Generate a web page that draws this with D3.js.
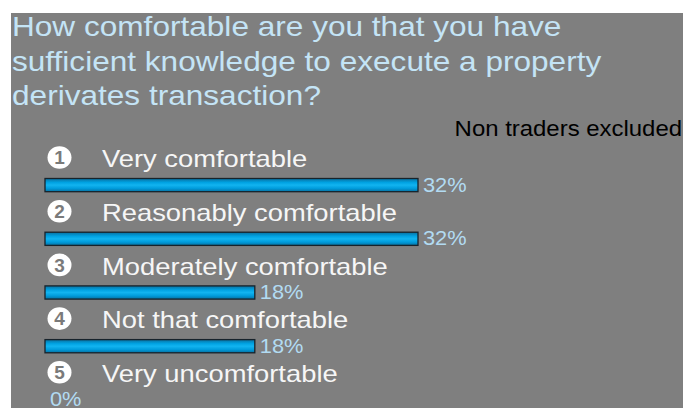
<!DOCTYPE html>
<html>
<head>
<meta charset="utf-8">
<script src="https://cdn.jsdelivr.net/npm/d3@7"></script>
<style>
  html, body { margin: 0; padding: 0; background: #ffffff; }
  svg { display: block; font-family: "Liberation Sans", Arial, sans-serif; }
</style>
</head>
<body>
<svg id="chart" width="683" height="409"></svg>
<script>
const titleLines = ["How comfortable are you that you have",
                    "sufficient knowledge to execute a property",
                    "derivates transaction?"];
const note = "Non traders excluded";
const categories = ["Very comfortable", "Reasonably comfortable", "Moderately comfortable",
                    "Not that comfortable", "Very uncomfortable"];
const numbers = ["1", "2", "3", "4", "5"];
const values = [32, 32, 18, 18, 0];
const valueLabels = ["32%", "32%", "18%", "18%", "0%"];

const W = 683, H = 409;
const svg = d3.select("#chart");

const defs = svg.append("defs");
const grad = defs.append("linearGradient").attr("id", "barGrad")
  .attr("x1", 0).attr("y1", 0).attr("x2", 0).attr("y2", 1);
[[0, "#0a6f9e"], [0.3, "#00a2e2"], [0.5, "#12b4f0"], [0.75, "#009cdc"], [1, "#08709f"]]
  .forEach(([o, c]) => grad.append("stop").attr("offset", o).attr("stop-color", c));

// background panel
svg.append("rect").attr("x", 11).attr("y", 13).attr("width", W - 11).attr("height", 395)
  .attr("fill", "#7f7f7f");

// title
const titleG = svg.append("g");
titleLines.forEach((t, i) => {
  titleG.append("text")
    .attr("transform", `translate(12,${36 + i * 34.5}) scale(1.17,1)`)
    .attr("font-size", 27).attr("fill", "#c4e4f6").text(t);
});

svg.append("text")
  .attr("transform", "translate(682,135.5) scale(1.05,1)")
  .attr("text-anchor", "end").attr("font-size", 22.8).attr("fill", "#000").text(note);

// scales
const y = d3.scaleBand().domain(categories).range([146, 146 + 5 * 53.7]).padding(0);
const x = d3.scaleLinear().domain([0, 32]).range([45, 418]);

const rows = svg.append("g").selectAll("g.row")
  .data(categories.map((c, i) => ({ c, n: numbers[i], v: values[i], l: valueLabels[i] })))
  .join("g").attr("class", "row")
  .attr("transform", d => `translate(0,${y(d.c)})`);

// number badge
rows.append("ellipse").attr("cx", 59.5).attr("cy", 11.5).attr("rx", 12).attr("ry", 11.3)
  .attr("fill", "#ffffff");
rows.append("text").attr("x", 59.5).attr("y", 18.3).attr("text-anchor", "middle")
  .attr("font-size", 19).attr("font-weight", "bold").attr("fill", "#7a7a7a")
  .text(d => d.n);

// category label
rows.append("text")
  .attr("transform", "translate(102,21.3) scale(1.19,1)")
  .attr("font-size", 23).attr("fill", "#f6f6f6").text(d => d.c);

// bars
rows.append("rect")
  .attr("x", x(0)).attr("y", 32.5)
  .attr("width", d => x(d.v) - x(0)).attr("height", 13.2)
  .attr("fill", "url(#barGrad)").attr("stroke", "#17232b").attr("stroke-width", 1.3);

// value labels
rows.append("text")
  .attr("transform", d => `translate(${x(d.v) + 5},45.5) scale(1.09,1)`)
  .attr("font-size", 20).attr("fill", "#b2dbf2").text(d => d.l);
</script>
</body>
</html>
